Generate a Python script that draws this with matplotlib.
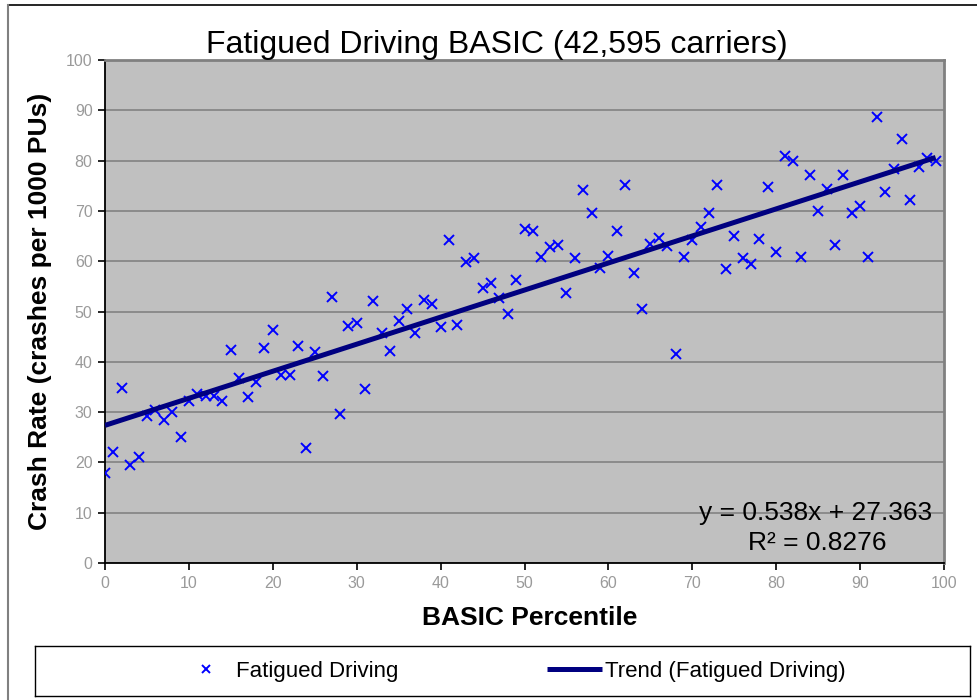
import matplotlib.pyplot as plt
from matplotlib.lines import Line2D

plt.rcParams['font.family'] = ['Liberation Sans', 'DejaVu Sans']

# BASIC percentile (0..99) and crash rate per 1000 PUs
percentile = list(range(100))
crash_rate = [
    17.9, 22.0, 34.7, 19.4, 21.0, 29.2, 30.5, 28.5, 30.0, 25.0,
    32.2, 33.6, 33.3, 33.3, 32.2, 42.3, 36.7, 33.1, 35.9, 42.8,
    46.4, 37.4, 37.4, 43.1, 22.8, 42.0, 37.1, 52.8, 29.6, 47.2,
    47.7, 34.5, 52.1, 45.7, 42.1, 48.2, 50.4, 45.8, 52.2, 51.5,
    46.9, 64.3, 47.3, 59.9, 60.7, 54.6, 55.7, 52.6, 49.6, 56.3,
    66.4, 66.1, 60.9, 62.9, 63.3, 53.6, 60.7, 74.2, 69.6, 58.7,
    61.1, 66.1, 75.2, 57.6, 50.4, 63.4, 64.7, 63.1, 41.5, 60.9,
    64.3, 66.7, 69.6, 75.2, 58.5, 65.1, 60.7, 59.5, 64.5, 74.8,
    61.9, 80.9, 80.0, 60.9, 77.1, 69.9, 74.4, 63.3, 77.2, 69.6,
    70.9, 60.9, 88.7, 73.8, 78.4, 84.3, 72.2, 78.8, 80.6, 80.0,
]

# trendline shown on the chart
slope = 0.538
intercept = 27.363
r_squared = 0.8276

fig = plt.figure(figsize=(9.77, 7.0), dpi=100)
ax = fig.add_axes([105 / 977, 1 - 563 / 700, 839 / 977, 503 / 700])
ax.set_facecolor('#C0C0C0')

ax.plot(percentile, crash_rate, linestyle='none', marker='x', color='#0000FF',
        markersize=6.5, markeredgewidth=1.4, label='Fatigued Driving', zorder=3)

trend_x = [percentile[0], percentile[-1]]
trend_y = [slope * v + intercept for v in trend_x]
ax.plot(trend_x, trend_y, color='#000080', linewidth=3.6,
        solid_capstyle='butt', label='Trend (Fatigued Driving)', zorder=4)

ax.set_xlim(0, 100)
ax.set_ylim(0, 100)
ax.set_xticks(range(0, 101, 10))
ax.set_yticks(range(0, 101, 10))
ax.grid(axis='y', color='#878787', linewidth=1.3)
ax.set_axisbelow(True)
ax.tick_params(direction='out', length=5, width=1.2, color='#000000',
               labelcolor='#9A9A9A', labelsize=11.5, pad=4)

for side in ('left', 'bottom'):
    ax.spines[side].set_color('#000000')
    ax.spines[side].set_linewidth(1.3)
for side in ('top', 'right'):
    ax.spines[side].set_color('#808080')
    ax.spines[side].set_linewidth(2.0)

ax.set_title('Fatigued Driving BASIC (42,595 carriers)', fontsize=23, pad=0,
             x=0.467)
ax.set_xlabel('BASIC Percentile', fontsize=19, fontweight='bold', labelpad=11)
ax.xaxis.label.set_x(0.5066)
ax.set_ylabel('Crash Rate (crashes per 1000 PUs)', fontsize=19,
              fontweight='bold', labelpad=10)

ax.text(0.986, 0.10, f'y = {slope}x + {intercept}',
        transform=ax.transAxes, ha='right', va='center', fontsize=19)
ax.text(0.849, 0.04, f'R² = {r_squared}', transform=ax.transAxes,
        ha='center', va='center', fontsize=19)

# legend box under the plot
lax = fig.add_axes([35 / 977, 1 - 696 / 700, 935 / 977, 50 / 700])
lax.set_xticks([])
lax.set_yticks([])
for s in lax.spines.values():
    s.set_color('#000000')
    s.set_linewidth(1.0)
handles, labels = ax.get_legend_handles_labels()
leg = lax.legend(handles, labels, loc='center', ncol=2, frameon=False,
                 fontsize=16, handlelength=2.5, handletextpad=0.1,
                 columnspacing=6.7, markerscale=0.8,
                 bbox_to_anchor=(0.5 + 9 / 935, 0.5))

# outer chart border
fig.add_artist(Line2D([8 / 977, 1], [1 - 5 / 700, 1 - 5 / 700],
                      color='#000000', linewidth=1.2))
fig.add_artist(Line2D([8 / 977, 8 / 977], [0, 1 - 5 / 700],
                      color='#808080', linewidth=1.5))

fig.savefig('out.png', dpi=100)
